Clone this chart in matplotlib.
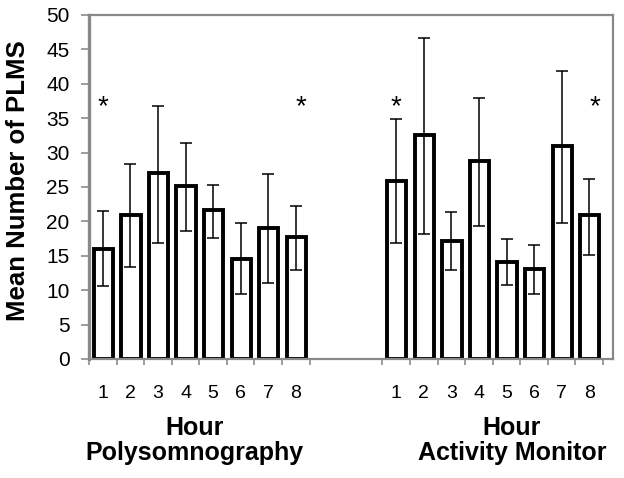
import numpy as np
import matplotlib.pyplot as plt
import matplotlib.transforms as mtransforms

plt.rcParams['font.family'] = ['Liberation Sans', 'DejaVu Sans']

hours = ['1', '2', '3', '4', '5', '6', '7', '8']

# Polysomnography: mean, error bar low, error bar high
psg_mean = [16.0, 21.0, 27.0, 25.2, 21.6, 14.6, 19.1, 17.8]
psg_low = [10.6, 13.3, 16.9, 18.6, 17.6, 9.5, 11.0, 12.9]
psg_high = [21.5, 28.4, 36.8, 31.4, 25.3, 19.7, 26.9, 22.3]

# Activity monitor
am_mean = [25.9, 32.5, 17.1, 28.8, 14.1, 13.1, 30.9, 20.9]
am_low = [16.9, 18.1, 12.9, 19.4, 10.8, 9.5, 19.7, 15.1]
am_high = [34.9, 46.6, 21.3, 38.0, 17.4, 16.5, 41.8, 26.2]

# asterisks over hours 1 and 8 of each group
star_hours = [1, 8]
star_level = 36.6

W, H = 624, 478
fig = plt.figure(figsize=(W / 100, H / 100), dpi=100)
ax = fig.add_axes([89 / W, (H - 359) / H, (613 - 89) / W, (359 - 15) / H])

gap_start = 10.64
groups = [
    (np.arange(8) + 0.5, psg_mean, psg_low, psg_high, 'Polysomnography', -0.19),
    (np.arange(8) + 0.5 + gap_start, am_mean, am_low, am_high, 'Activity Monitor', 0.7),
]

trans = mtransforms.blended_transform_factory(ax.transData, ax.transAxes)
centers_all, labels_all, bounds = [], [], []
for x, mean, low, high, name, shift in groups:
    mean = np.array(mean)
    yerr = [mean - np.array(low), np.array(high) - mean]
    ax.bar(x + 0.02, mean, width=0.70, color='white', edgecolor='black',
           linewidth=2.8, zorder=2)
    ax.errorbar(x, mean, yerr=yerr, fmt='none', ecolor='black',
                elinewidth=1.1, capsize=4, capthick=1.1, zorder=3)
    for h in star_hours:
        dx = 0.2 if h == 8 else 0.0
        ax.text(x[h - 1] + dx, star_level, '*', ha='center', va='center',
                fontsize=20)
    centers_all += list(x)
    labels_all += hours
    bounds += list(np.append(x - 0.5, x[-1] + 0.5))
    mid = x.mean() + shift
    ax.text(mid, -0.221, 'Hour', transform=trans, ha='center',
            va='baseline', fontsize=18, fontweight='bold')
    ax.text(mid, -0.294, name, transform=trans, ha='center',
            va='baseline', fontsize=18, fontweight='bold')

ax.set_xlim(0, 19)
ax.set_ylim(0, 50)
ax.set_yticks(np.arange(0, 51, 5))
ax.set_xticks(centers_all, labels_all)
ax.set_xticks(bounds, minor=True)
ax.tick_params(axis='x', which='major', length=0, pad=19, labelsize=14)
ax.tick_params(axis='x', which='minor', length=4, width=1.2, color='#8c8c8c')
ax.tick_params(axis='y', length=6, width=1.2, color='#8c8c8c',
               labelsize=15, pad=8)

for s in ax.spines.values():
    s.set_color('#898989')
    s.set_linewidth(1.6)
ax.spines['left'].set_linewidth(2.4)

ax.set_ylabel('Mean Number of PLMS', fontsize=18.5, fontweight='bold')
ax.yaxis.set_label_coords(-0.112, 0.518)

fig.savefig('out.png', dpi=100)
